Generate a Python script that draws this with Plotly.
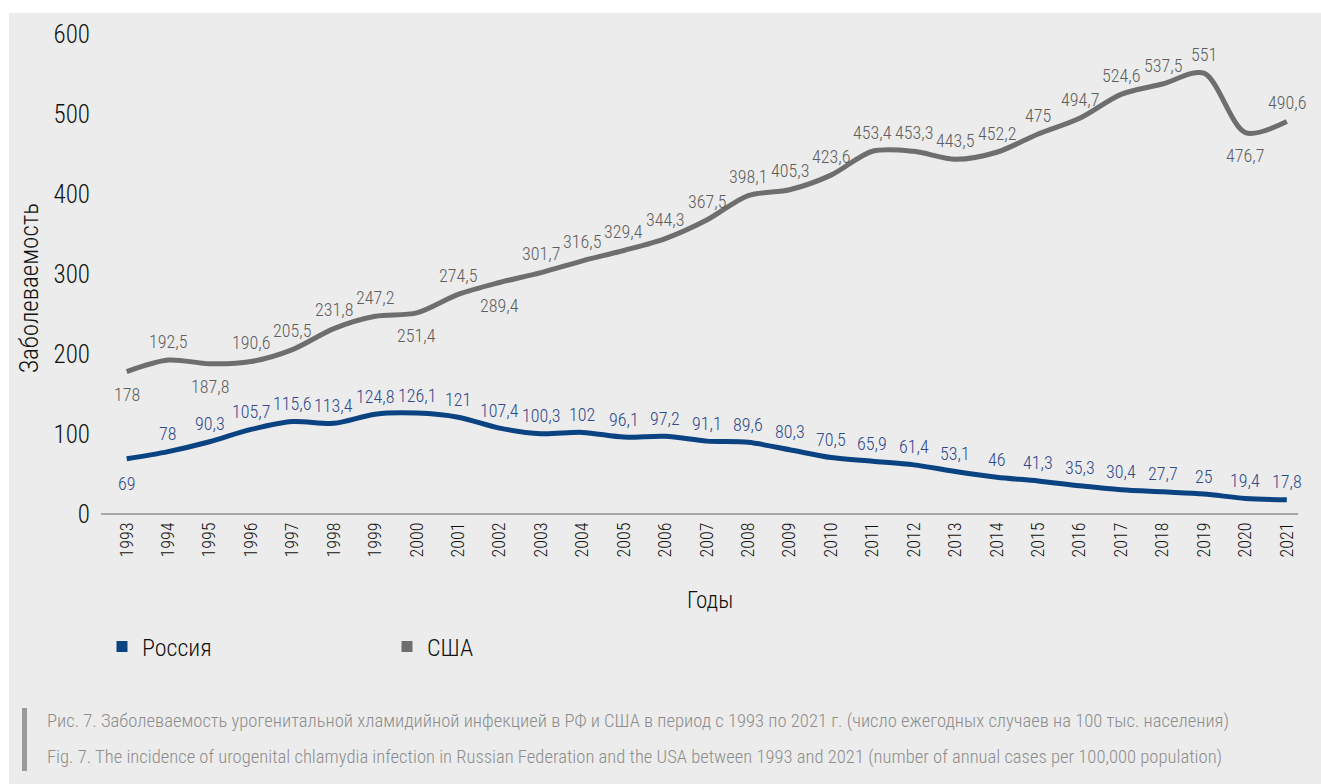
import plotly.graph_objects as go

# Chlamydia incidence, cases per 100,000 population
years = list(range(1993, 2022))
russia = [69, 78, 90.3, 105.7, 115.6, 113.4, 124.8, 126.1, 121, 107.4, 100.3, 102,
          96.1, 97.2, 91.1, 89.6, 80.3, 70.5, 65.9, 61.4, 53.1, 46, 41.3, 35.3,
          30.4, 27.7, 25, 19.4, 17.8]
usa = [178, 192.5, 187.8, 190.6, 205.5, 231.8, 247.2, 251.4, 274.5, 289.4, 301.7,
       316.5, 329.4, 344.3, 367.5, 398.1, 405.3, 423.6, 453.4, 453.3, 443.5, 452.2,
       475, 494.7, 524.6, 537.5, 551, 476.7, 490.6]
y_ticks = [0, 100, 200, 300, 400, 500, 600]

W, H = 1321, 784
L, R, T, B = 101, 23, 34, 270
PW, PH = W - L - R, H - T - B

FONT = "Roboto Condensed, Liberation Sans Narrow, Arial Narrow, DejaVu Sans Condensed, sans-serif"
WEIGHT = 300
RU_LINE, RU_TEXT = "#0a4282", "#2f4a8c"
US_LINE, US_TEXT = "#6e6e6e", "#5e5e5e"
BG = "#ececec"


def px_x(x):
    return (x - L) / PW


def px_y(y):
    return (H - B - y) / PH


def fmt(v):
    return str(v).replace(".", ",")


def font(size, color="#111111", weight=WEIGHT):
    return dict(family=FONT, size=size, color=color, weight=weight)


fig = go.Figure()
fig.add_trace(go.Scatter(x=years, y=usa, mode="lines", name="США", showlegend=False,
                         line=dict(color=US_LINE, width=5, shape="spline", smoothing=0.85)))
fig.add_trace(go.Scatter(x=years, y=russia, mode="lines", name="Россия", showlegend=False,
                         line=dict(color=RU_LINE, width=5, shape="spline", smoothing=0.85)))
# legend entries shown as squares
fig.add_trace(go.Scatter(x=[None], y=[None], mode="markers", name="Россия",
                         marker=dict(symbol="square", size=11, color=RU_LINE)))
fig.add_trace(go.Scatter(x=[None], y=[None], mode="markers", name="США",
                         marker=dict(symbol="square", size=11, color=US_LINE)))

annotations = []
usa_below = {1993, 1995, 2000, 2002, 2020}
for yr, v in zip(years, usa):
    below = yr in usa_below
    annotations.append(dict(x=yr, y=v, text=fmt(v), showarrow=False,
                            yshift=-23 if below else 19, font=font(18, US_TEXT)))
for yr, v in zip(years, russia):
    below = yr == 1993
    annotations.append(dict(x=yr, y=v, text=fmt(v), showarrow=False,
                            yshift=-25 if below else 18, font=font(18, RU_TEXT)))

# axis titles
annotations.append(dict(xref="paper", yref="paper", x=px_x(710), y=px_y(600),
                        xanchor="center", yanchor="middle", text="Годы", showarrow=False,
                        font=font(23)))
annotations.append(dict(xref="paper", yref="paper", x=px_x(29), y=px_y(288),
                        xanchor="center", yanchor="middle", text="Заболеваемость",
                        textangle=-90, showarrow=False, font=font(25)))

caption = [
    "Рис. 7. Заболеваемость урогенитальной хламидийной инфекцией в РФ и США в период с 1993 по 2021 г. (число ежегодных случаев на 100 тыс. населения)",
    "Fig. 7. The incidence of urogenital chlamydia infection in Russian Federation and the USA between 1993 and 2021 (number of annual cases per 100,000 population)",
]
for text, yy in zip(caption, [721, 757]):
    annotations.append(dict(xref="paper", yref="paper", x=px_x(45), y=px_y(yy),
                            xanchor="left", yanchor="middle", text=text, showarrow=False,
                            font=font(18.6, "#8c8c8c")))

shapes = [
    dict(type="rect", xref="paper", yref="paper", layer="below",
         x0=px_x(9), x1=px_x(W + 5), y0=px_y(H + 5), y1=px_y(13),
         fillcolor=BG, line=dict(width=0)),
    dict(type="rect", xref="paper", yref="paper", layer="below",
         x0=px_x(22), x1=px_x(27), y0=px_y(771), y1=px_y(708),
         fillcolor="#9a9a9a", line=dict(width=0)),
]

fig.update_layout(
    width=W, height=H,
    margin=dict(l=L, r=R, t=T, b=B),
    paper_bgcolor="white", plot_bgcolor="rgba(0,0,0,0)",
    font=font(18),
    showlegend=True,
    legend=dict(orientation="h", x=px_x(102), y=px_y(647), xanchor="left", yanchor="middle",
                bgcolor="rgba(0,0,0,0)", entrywidth=240, entrywidthmode="pixels",
                font=font(24)),
    annotations=annotations,
    shapes=shapes,
    xaxis=dict(range=[1992.38, 2021.27], tickmode="array", tickvals=years,
               ticktext=[str(y) for y in years], tickangle=-90,
               tickfont=font(18),
               showgrid=False, zeroline=False, showline=False, ticks="", ticklabelstandoff=4),
    yaxis=dict(range=[0, 600], tickvals=y_ticks, showgrid=False, zeroline=True,
               zerolinecolor="#a6a6a6", zerolinewidth=1.5, showline=False, ticks="",
               ticklabelstandoff=10,
               tickfont=font(25)),
)

fig.write_html("out.html")
